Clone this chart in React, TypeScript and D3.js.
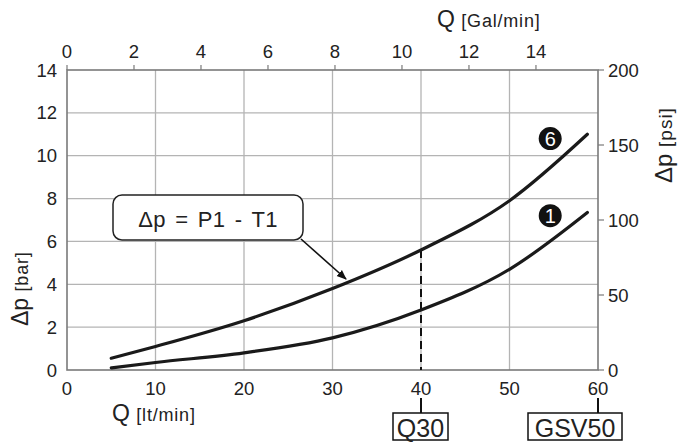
import React from "react";
import * as d3 from "d3";

const flowTicks = [0, 10, 20, 30, 40, 50, 60];
const barTicks = [0, 2, 4, 6, 8, 10, 12, 14];
const galTicks = [0, 2, 4, 6, 8, 10, 12, 14];
const psiTicks = [0, 50, 100, 150, 200];

const curve6Q = [5, 10, 20, 30, 40, 50, 58.8];
const curve6P = [0.55, 1.1, 2.3, 3.8, 5.6, 7.9, 11.0];
const curve1Q = [5, 10, 20, 30, 40, 50, 58.8];
const curve1P = [0.1, 0.35, 0.8, 1.5, 2.8, 4.7, 7.35];

const markerLabels = ["6", "1"];
const markerBar = [10.8, 7.2];
const valveLabels = ["Q30", "GSV50"];
const valveFlows = [40, 60];
const LPM_PER_GAL = 3.785;

export default function App() {
  const W = 689, H = 443;
  const x0 = 67, x1 = 598, yTop = 70, yBot = 370;
  const x = d3.scaleLinear().domain([0, 60]).range([x0, x1]);
  const y = d3.scaleLinear().domain([0, 14]).range([yBot, yTop]);
  const yPsi = d3.scaleLinear().domain([0, 200]).range([yBot, yTop]);
  const xGal = d3.scaleLinear().domain([0, 60 / LPM_PER_GAL]).range([x0, x1]);

  const line = d3
    .line<[number, number]>()
    .x((d) => x(d[0]))
    .y((d) => y(d[1]))
    .curve(d3.curveMonotoneX);

  const c6 = curve6Q.map((q, i) => [q, curve6P[i]] as [number, number]);
  const c1 = curve1Q.map((q, i) => [q, curve1P[i]] as [number, number]);

  const font = "'Liberation Sans', Arial, sans-serif";
  const grid = "#b4b4b4";
  const frame = "#7a7a7a";
  const tickColor = "#222";

  const p40 = curve6P[curve6Q.indexOf(40)];

  const valveBoxes = [
    { left: 393, width: 55 },
    { left: 528, width: 94 },
  ];

  return (
    <svg
      width={W}
      height={H}
      style={{ position: "absolute", left: 0, top: 0, background: "#fff" }}
      fontFamily={font}
    >
      <defs>
        <marker id="arrow" viewBox="0 0 10 10" refX="9" refY="5" markerWidth="10" markerHeight="10" orient="auto" markerUnits="userSpaceOnUse">
          <path d="M0,1 L10,5 L0,9 z" fill="#111" />
        </marker>
      </defs>
      {flowTicks.slice(1, -1).map((t) => (
        <line key={"vg" + t} x1={x(t)} x2={x(t)} y1={yTop} y2={yBot} stroke={grid} strokeWidth={1.3} />
      ))}
      {barTicks.slice(1, -1).map((t) => (
        <line key={"hg" + t} x1={x0} x2={x1} y1={y(t)} y2={y(t)} stroke={grid} strokeWidth={1.3} />
      ))}
      <rect x={x0} y={yTop} width={x1 - x0} height={yBot - yTop} fill="none" stroke={frame} strokeWidth={1.6} />

      {flowTicks.map((t) => (
        <text key={"bx" + t} x={x(t)} y={395} textAnchor="middle" fontSize={18.5} fill={tickColor}>{t}</text>
      ))}
      {barTicks.map((t) => (
        <text key={"ly" + t} x={57} y={y(t) + 6.5} textAnchor="end" fontSize={18.5} fill={tickColor}>{t}</text>
      ))}
      {galTicks.map((t) => (
        <g key={"tg" + t}>
          <line x1={xGal(t)} x2={xGal(t)} y1={yTop} y2={yTop - 5} stroke={frame} strokeWidth={1.2} />
          <text x={xGal(t)} y={58} textAnchor="middle" fontSize={18.5} fill={tickColor}>{t}</text>
        </g>
      ))}
      {psiTicks.map((t) => (
        <g key={"rp" + t}>
          <line x1={x1} x2={x1 + 6} y1={yPsi(t)} y2={yPsi(t)} stroke={frame} strokeWidth={1.2} />
          <text x={x1 + 10} y={yPsi(t) + 6.5} textAnchor="start" fontSize={18.5} fill={tickColor}>{t}</text>
        </g>
      ))}

      <text x={112} y={421} fontSize={23} fill={tickColor}>
        Q <tspan fontSize={18} letterSpacing={0.8}>[lt/min]</tspan>
      </text>
      <text x={437} y={27} fontSize={23} fill={tickColor}>
        Q <tspan fontSize={18} letterSpacing={0.8}>[Gal/min]</tspan>
      </text>
      <text transform={`translate(28,326) rotate(-90)`} fontSize={23} fill={tickColor}>
        Δp <tspan fontSize={18} letterSpacing={0.8}>[bar]</tspan>
      </text>
      <text transform={`translate(672,183) rotate(-90)`} fontSize={24} fill={tickColor}>
        Δp <tspan fontSize={19} letterSpacing={1}>[psi]</tspan>
      </text>

      <line x1={x(40)} x2={x(40)} y1={y(p40)} y2={yBot} stroke="#111" strokeWidth={2} strokeDasharray="8,5" />

      <path d={line(c6) || ""} fill="none" stroke="#1a1a1a" strokeWidth={3.2} strokeLinecap="round" />
      <path d={line(c1) || ""} fill="none" stroke="#1a1a1a" strokeWidth={3.2} strokeLinecap="round" />

      {markerLabels.map((m, i) => {
        const cx = x(54.6);
        const cy = y(markerBar[i]);
        return (
          <g key={"m" + m}>
            <circle cx={cx} cy={cy} r={11.5} fill="#111" />
            <text x={cx} y={cy + 7} textAnchor="middle" fontSize={20} fill="#fff">{m}</text>
          </g>
        );
      })}

      <rect x={113} y={195} width={190} height={45} rx={9} ry={9} fill="#fff" stroke="#222" strokeWidth={1.5} />
      <text x={208} y={227} textAnchor="middle" fontSize={22} letterSpacing={0.3} wordSpacing={3} fill={tickColor}>Δp = P1 - T1</text>
      <line x1={301} y1={239} x2={346} y2={279} stroke="#111" strokeWidth={1.6} markerEnd="url(#arrow)" />

      {valveLabels.map((v, i) => {
        const cx = x(valveFlows[i]);
        const b = valveBoxes[i];
        return (
          <g key={v}>
            <line x1={cx} x2={cx} y1={398} y2={413} stroke="#111" strokeWidth={2} />
            <rect x={b.left} y={413} width={b.width} height={27} fill="#fff" stroke="#111" strokeWidth={1.5} />
            <text x={b.left + b.width / 2} y={437} textAnchor="middle" fontSize={25} fill={tickColor}>{v}</text>
          </g>
        );
      })}
    </svg>
  );
}
